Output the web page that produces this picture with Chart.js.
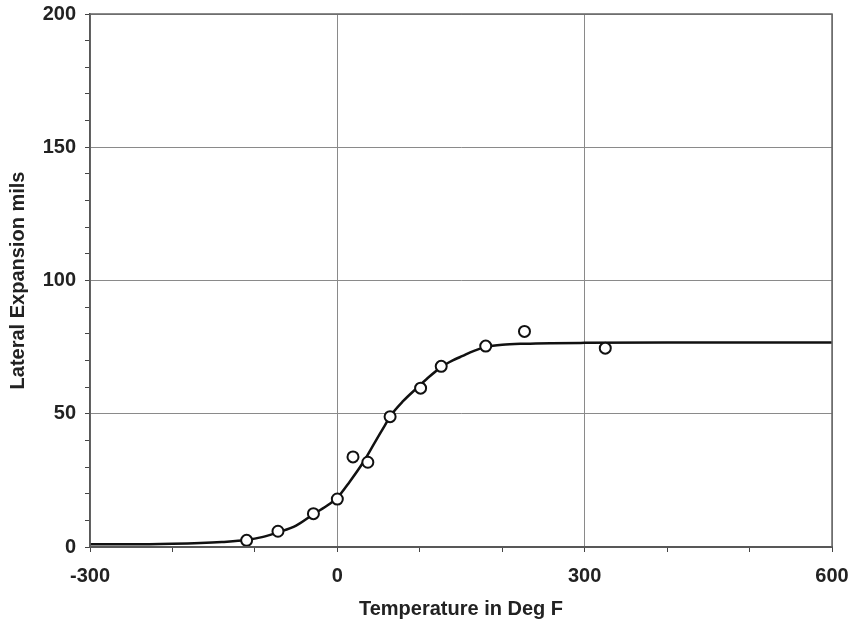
<!DOCTYPE html>
<html>
<head>
<meta charset="utf-8">
<script src="https://cdn.jsdelivr.net/npm/chart.js@4"></script>
<style>
    html, body { margin: 0; padding: 0; background: #fff; }
    canvas { display: block; }
</style>
</head>
<body>
<canvas id="cv-chart" width="862" height="627"></canvas>
<script>
// measured test points (Deg F, mils)
const tempF = [-110, -72, -29, 0, 19, 37, 64, 101, 126, 180, 227, 325];
const latExp = [2.5, 5.9, 12.5, 18.0, 33.8, 31.8, 48.9, 59.6, 67.8, 75.4, 80.9, 74.6];

// fitted curve
const curveT = [-300, -250, -200, -166, -140, -111, -90, -72, -50, -29, -10, 0, 15, 31, 45, 57, 64, 80, 97, 110, 126, 140, 152, 165, 180, 200, 228, 260, 300, 400, 500, 600];
const curveY = [1.0, 1.0, 1.2, 1.5, 1.9, 2.6, 3.8, 5.5, 8.0, 12.3, 16.0, 18.5, 24.5, 31.6, 39.0, 45.3, 49.0, 54.8, 59.8, 63.5, 67.5, 70.0, 71.7, 73.5, 75.0, 75.9, 76.3, 76.5, 76.6, 76.7, 76.7, 76.7];

const xTicks = [-300, 0, 300, 600];
const yTicks = [0, 50, 100, 150, 200];

Chart.defaults.font.family = "'Liberation Sans', Arial, sans-serif";
Chart.defaults.color = "#222";

const frame = {
    id: "frame",
    afterDraw(chart) {
        const a = chart.chartArea;
        const ctx = chart.ctx;
        ctx.save();
        ctx.strokeStyle = "#666";
        ctx.lineWidth = 1.5;
        ctx.strokeRect(a.left, a.top, a.right - a.left, a.bottom - a.top);
        ctx.restore();
    }
};

new Chart(document.querySelector("#cv-chart"), {
    type: "scatter",
    data: {
        datasets: [
            {
                label: "fit",
                data: curveT.map((t, i) => ({ x: t, y: curveY[i] })),
                showLine: true,
                borderColor: "#111",
                borderWidth: 2.5,
                pointRadius: 0,
                cubicInterpolationMode: "monotone",
                order: 2
            },
            {
                label: "data",
                data: tempF.map((t, i) => ({ x: t, y: latExp[i] })),
                pointStyle: "circle",
                pointRadius: 5.5,
                pointBorderWidth: 2,
                pointBorderColor: "#111",
                pointBackgroundColor: "#fff",
                order: 1
            }
        ]
    },
    options: {
        responsive: false,
        animation: false,
        layout: { padding: { top: 14, right: 30, left: 0, bottom: 0 } },
        plugins: {
            legend: { display: false },
            tooltip: { enabled: false }
        },
        scales: {
            x: {
                type: "linear",
                min: -300,
                max: 600,
                afterFit: s => { s.height = 80; s.paddingLeft = 0; s.paddingRight = 0; },
                ticks: {
                    stepSize: 100,
                    autoSkip: false,
                    maxRotation: 0,
                    padding: 12,
                    font: { size: 20, weight: "bold" },
                    callback: v => xTicks.includes(v) ? v : ""
                },
                grid: {
                    color: c => c.tick && xTicks.includes(c.tick.value) ? "#8a8a8a" : "rgba(0,0,0,0)",
                    tickColor: "#444",
                    tickLength: 5,
                    lineWidth: 1
                },
                border: { color: "#333", width: 2 },
                title: {
                    display: true,
                    text: "Temperature in Deg F",
                    font: { size: 20, weight: "bold" },
                    padding: { top: 4, bottom: 6 }
                }
            },
            y: {
                min: 0,
                max: 200,
                afterFit: s => { s.width = 90; s.paddingTop = 0; s.paddingBottom = 0; },
                ticks: {
                    stepSize: 10,
                    autoSkip: false,
                    padding: 9,
                    font: { size: 20, weight: "bold" },
                    callback: v => yTicks.includes(v) ? v : ""
                },
                grid: {
                    color: c => c.tick && yTicks.includes(c.tick.value) ? "#8a8a8a" : "rgba(0,0,0,0)",
                    tickColor: "#444",
                    tickLength: 5,
                    lineWidth: 1
                },
                border: { color: "#333", width: 1.5 },
                title: {
                    display: true,
                    text: "Lateral Expansion mils",
                    font: { size: 20, weight: "bold" },
                    padding: { top: 6, bottom: 4 }
                }
            }
        }
    },
    plugins: [frame]
});
</script>
</body>
</html>
